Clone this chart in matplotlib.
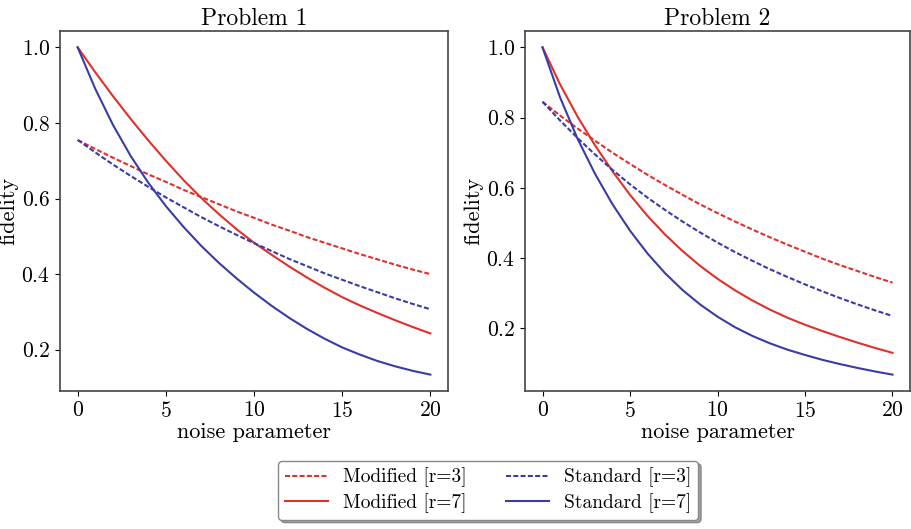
import matplotlib
matplotlib.use("Agg")
import matplotlib.pyplot as plt

plt.rcParams["font.family"] = "serif"
plt.rcParams["font.serif"] = ["cmr10"]
plt.rcParams["mathtext.fontset"] = "cm"
plt.rcParams["axes.formatter.use_mathtext"] = True

# noise parameter values (at integer steps)
noise = list(range(21))

# Problem 1
p1_mod_r3 = [0.755, 0.731, 0.708, 0.686, 0.664, 0.644, 0.623, 0.604, 0.585, 0.566, 0.549,
             0.531, 0.515, 0.498, 0.483, 0.468, 0.453, 0.439, 0.425, 0.412, 0.400]
p1_mod_r7 = [1.000, 0.934, 0.871, 0.811, 0.754, 0.700, 0.649, 0.602, 0.559, 0.519, 0.483,
             0.451, 0.420, 0.391, 0.364, 0.339, 0.317, 0.297, 0.278, 0.260, 0.243]
p1_std_r3 = [0.755, 0.722, 0.690, 0.660, 0.631, 0.603, 0.577, 0.551, 0.527, 0.504, 0.482,
             0.461, 0.440, 0.421, 0.402, 0.385, 0.368, 0.352, 0.336, 0.321, 0.307]
p1_std_r7 = [1.000, 0.890, 0.795, 0.713, 0.642, 0.580, 0.525, 0.475, 0.430, 0.389, 0.351,
             0.316, 0.284, 0.255, 0.229, 0.206, 0.187, 0.170, 0.156, 0.144, 0.134]

# Problem 2
p2_mod_r3 = [0.845, 0.806, 0.769, 0.734, 0.700, 0.668, 0.637, 0.608, 0.580, 0.553, 0.528,
             0.504, 0.481, 0.459, 0.438, 0.418, 0.398, 0.380, 0.363, 0.346, 0.330]
p2_mod_r7 = [1.000, 0.895, 0.803, 0.721, 0.647, 0.580, 0.520, 0.467, 0.420, 0.378, 0.341,
             0.308, 0.279, 0.253, 0.230, 0.210, 0.192, 0.175, 0.159, 0.144, 0.130]
p2_std_r3 = [0.845, 0.792, 0.742, 0.695, 0.651, 0.610, 0.572, 0.537, 0.504, 0.473, 0.444,
             0.417, 0.392, 0.368, 0.346, 0.325, 0.305, 0.286, 0.268, 0.251, 0.235]
p2_std_r7 = [1.000, 0.858, 0.740, 0.640, 0.553, 0.478, 0.413, 0.357, 0.309, 0.268, 0.233,
             0.203, 0.178, 0.157, 0.139, 0.124, 0.110, 0.098, 0.087, 0.077, 0.068]

titles = ["Problem 1", "Problem 2"]
labels = ["Modified [r=3]", "Modified [r=7]", "Standard [r=3]", "Standard [r=7]"]

RED = "#e0302a"
BLUE = "#3b3ba8"
DASH = (0, (2.4, 1.1))

fig = plt.figure(figsize=(9.11, 5.29), dpi=100)
ax1 = fig.add_axes([0.0659, 0.2609, 0.4259, 0.6805])
ax2 = fig.add_axes([0.5763, 0.2609, 0.4226, 0.6805])

panels = [
    (ax1, [p1_mod_r3, p1_mod_r7, p1_std_r3, p1_std_r7]),
    (ax2, [p2_mod_r3, p2_mod_r7, p2_std_r3, p2_std_r7]),
]

for (ax, series), title in zip(panels, titles):
    m3, m7, s3, s7 = series
    ax.plot(noise, m3, color=RED, linestyle=DASH, lw=1.5, label=labels[0])
    ax.plot(noise, m7, color=RED, lw=1.5, label=labels[1])
    ax.plot(noise, s3, color=BLUE, linestyle=DASH, lw=1.5, label=labels[2])
    ax.plot(noise, s7, color=BLUE, lw=1.5, label=labels[3])
    ax.set_title(title, fontsize=17, pad=4)
    ax.set_xlabel("noise parameter", fontsize=16, labelpad=1)
    ax.set_ylabel("fidelity", fontsize=16, labelpad=2)
    ax.set_xticks([0, 5, 10, 15, 20])
    ax.set_yticks([0.2, 0.4, 0.6, 0.8, 1.0])
    ax.tick_params(labelsize=15.5)
    for sp in ax.spines.values():
        sp.set_color("#444444")
        sp.set_linewidth(1.2)

handles, labs = ax1.get_legend_handles_labels()
fig.legend(handles, labs, loc="center", bbox_to_anchor=(0.536, 0.073), ncol=2,
           fontsize=14, shadow=True, fancybox=True, columnspacing=2.0,
           handlelength=2.2, handletextpad=0.8, framealpha=1, edgecolor="#888888",
           borderpad=0.35, labelspacing=0.3)

fig.savefig("out.png", dpi=100)
